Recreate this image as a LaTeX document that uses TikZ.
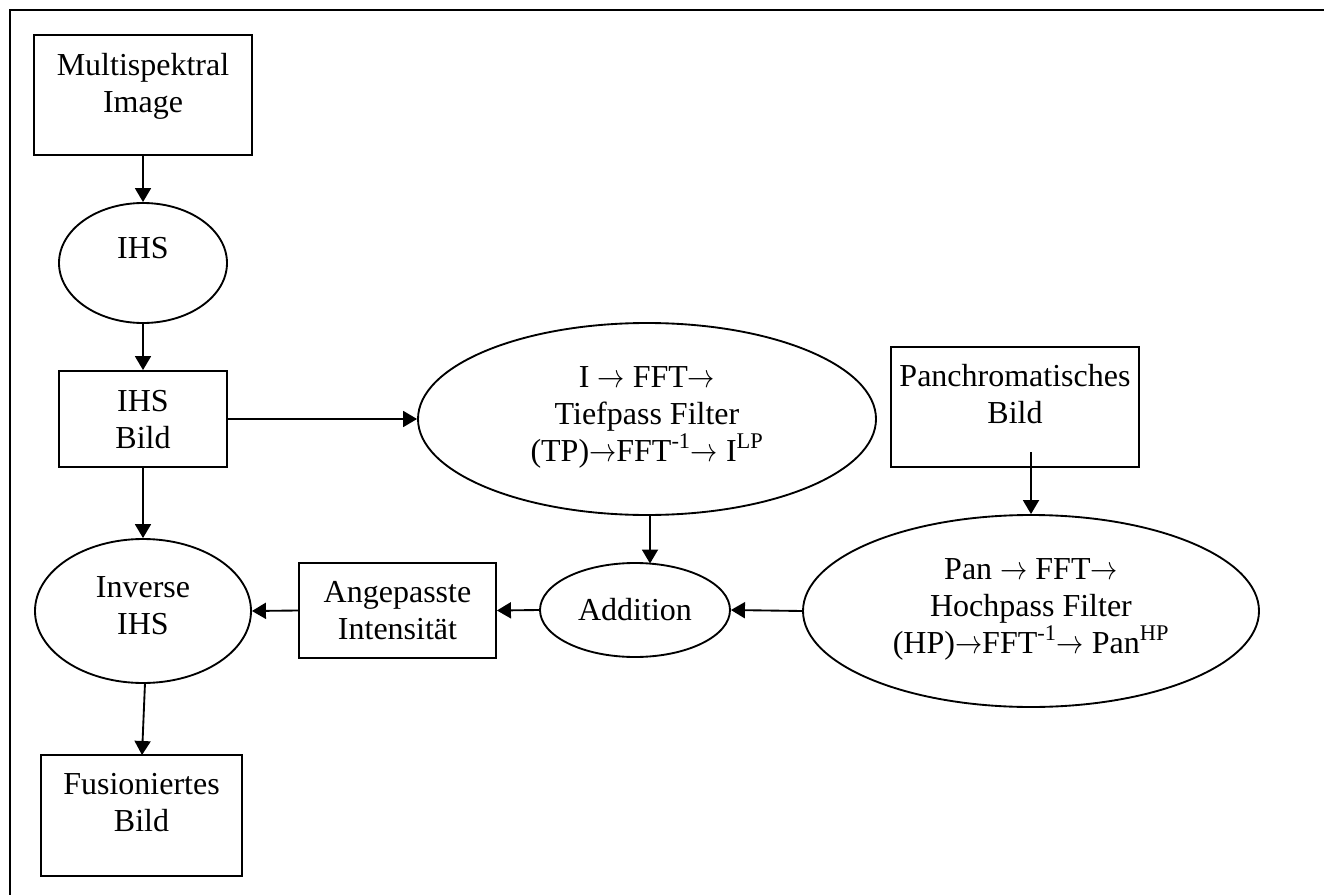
\documentclass[tikz,border=0pt]{standalone}
\usepackage{fontspec}
\setmainfont{Liberation Serif}
\usetikzlibrary{shapes.geometric,arrows.meta}
\newcommand{\myar}{\scalebox{0.82}[1]{$\rightarrow$}}
\begin{document}
\begin{tikzpicture}[x=0.75pt,y=-0.75pt,
  line width=1.4pt,
  boxnode/.style={draw,rectangle,inner sep=0pt},
  ellnode/.style={draw,ellipse,inner sep=0pt},
  txt/.style={align=center,inner sep=0pt,font=\fontsize{24}{27.7}\selectfont},
  arr/.style={-{Triangle[length=10.5pt,width=12pt]}}]
\useasboundingbox (0,0) rectangle (1324,895);
\draw[line width=1.5pt] (10,910) -- (10,10) -- (1340,10);

% shapes
\node[boxnode,minimum width=163.5pt,minimum height=90pt] (m) at (143,95) {};
\node[txt] (mt) at (143,86) {Multispektral\\Image};

\node[ellnode,minimum width=126pt,minimum height=90pt] (ihs) at (143,263) {};
\node[txt] (ihst) at (143,248.5) {IHS};

\node[boxnode,minimum width=126pt,minimum height=72pt] (ib) at (143,419) {};
\node[txt] (ibt) at (143,420) {IHS\\Bild};

\node[ellnode,minimum width=162pt,minimum height=108pt] (inv) at (143,611) {};
\node[txt] (invt) at (143,606) {Inverse\\IHS};

\node[boxnode,minimum width=150.75pt,minimum height=90.75pt] (fus) at (141.5,815.5) {};
\node[txt] (fust) at (141.5,803) {Fusioniertes\\Bild};

\node[boxnode,minimum width=147.75pt,minimum height=71.25pt] (ang) at (397.5,610.5) {};
\node[txt] (angt) at (397.5,611) {Angepasste\\Intensität};

\node[ellnode,minimum width=142.5pt,minimum height=70.5pt] (add) at (635,610) {};
\node[txt] (addt) at (635,610) {Addition};

\node[ellnode,minimum width=343.5pt,minimum height=144pt] (tp) at (647,419) {};
\node[txt] (tpt) at (647,417) {I \myar\ FFT\myar\\Tiefpass Filter\\(TP)\myar FFT\textsuperscript{-1}\myar\ I\textsuperscript{LP}};

\node[boxnode,minimum width=186pt,minimum height=90pt] (pb) at (1015,407) {};
\node[txt] (pbt) at (1015,394.5) {Panchromatisches\\Bild};

\node[ellnode,minimum width=342pt,minimum height=144pt] (hp) at (1031,611) {};
\node[txt] (hpt) at (1031,609) {Pan \myar\ FFT\myar\\Hochpass Filter\\(HP)\myar FFT\textsuperscript{-1}\myar\ Pan\textsuperscript{HP}};

% connectors
\draw[arr] (m.south) -- (ihs.north);
\draw[arr] (ihs.south) -- (ib.north);
\draw[arr] (ib.south) -- (inv.north);
\draw[arr] (ib.east) -- (tp.west);
\coordinate (tpb) at (650,514);
\coordinate (addtop) at (650,563.5);
\draw[arr] (tpb) -- (addtop);
\coordinate (pbb) at (1031,452);
\draw[arr] (pbb) -- (hp.north);
\draw[arr] (hp.west) -- (add.east);
\draw[arr] (add.west) -- (ang.east);
\draw[arr] (ang.west) -- (inv.east);
\coordinate (invb) at (145,683);
\coordinate (fustop) at (142,755);
\draw[arr] (invb) -- (fustop);
\end{tikzpicture}
\end{document}
